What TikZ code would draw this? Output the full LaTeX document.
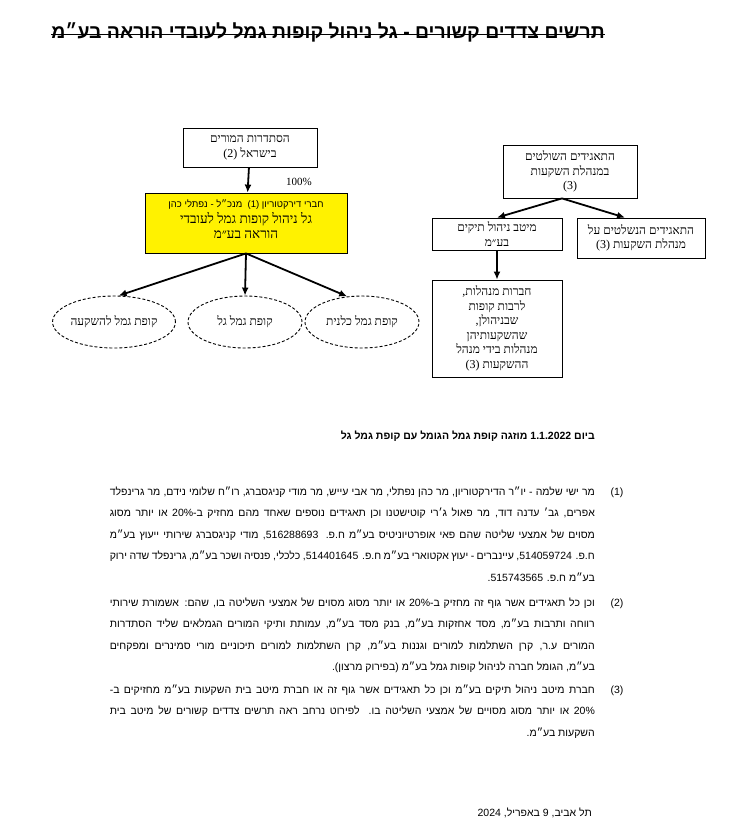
\documentclass[tikz,border=0pt]{standalone}
\usepackage{fontspec}
\setmainfont{Liberation Sans}
\newfontfamily\hebsans[Script=Hebrew]{Liberation Sans}
\newfontfamily\hebserif[Script=Hebrew]{Liberation Serif}
\TeXXeTstate=1
\usetikzlibrary{arrows.meta,shapes.geometric}
\newcommand{\rl}[1]{\beginR#1\endR}
\newcommand{\jline}[1]{\makebox[485pt][s]{\beginR#1\endR}}

\begin{document}
\begin{tikzpicture}[x=1pt,y=-1pt,
  orgbox/.style={draw, line width=0.8pt, inner sep=0pt, align=center,
    font=\hebserif\fontsize{12}{14.5}\selectfont},
  fundell/.style={ellipse, draw, line width=0.9pt, dash pattern=on 3pt off 2pt,
    minimum width=114pt, minimum height=52pt, inner sep=0pt,
    font=\hebserif\fontsize{12}{14}\selectfont},
  link/.style={-{Latex[length=8pt,width=7pt]}, line width=1.8pt},
  bodyline/.style={anchor=base east, inner sep=0pt,
    font=\hebsans\fontsize{10.5}{12}\selectfont},
  itemno/.style={anchor=base, inner sep=0pt, font=\fontsize{10.5}{12}\selectfont}]
  \useasboundingbox (0,0) rectangle (740,828);

  % title
  \node[inner sep=0pt, font=\hebsans\bfseries\fontsize{19.4}{22}\selectfont] (title) at (328,32)
    {\rl{תרשים צדדים קשורים - גל ניהול קופות גמל לעובדי הוראה בע״מ}};
  \draw[line width=1.3pt] ([yshift=3.5pt]title.base west) -- ([yshift=3.5pt]title.base east);

  % left chart
  \node[orgbox, minimum width=134pt, minimum height=39pt] (histadrut) at (250,147.5)
    {\rl{הסתדרות המורים}\\ \rl{בישראל (2)}};
  \node[orgbox, fill=yellow, minimum width=202pt, minimum height=60pt, font=\hebserif\fontsize{13.5}{15.5}\selectfont] (gal) at (246,223)
    {{\hebsans\fontsize{9.5}{11}\selectfont\rl{חברי דירקטוריון (1)\ \ מנכ״ל - נפתלי כהן}}\\
     \rl{גל ניהול קופות גמל לעובדי}\\ \rl{הוראה בע״מ}\\[-8pt]};
  \node[inner sep=0pt, font=\hebserif\fontsize{11}{13}\selectfont] (share) at (299,182) {100\%};
  \draw[link] (histadrut) -- (gal);

  \node[fundell] (kupa1) at (114,322) {\rl{קופת גמל להשקעה}};
  \node[fundell] (kupa2) at (245,322) {\rl{קופת גמל גל}};
  \node[fundell] (kupa3) at (362,322) {\rl{קופת גמל כלנית}};
  \draw[link] (gal.south) -- (kupa1.80);
  \draw[link] (gal.south) -- (kupa2.north);
  \draw[link] (gal.south) -- (kupa3.120);

  % right chart
  \node[orgbox, minimum width=134pt, minimum height=53pt] (owners) at (570,171.5)
    {\rl{התאגידים השולטים}\\ \rl{במנהלת השקעות}\\ (3)};
  \node[orgbox, minimum width=130pt, minimum height=32pt] (meitav) at (497,234)
    {\rl{מיטב ניהול תיקים}\\ \rl{בע״מ}};
  \node[orgbox, minimum width=128pt, minimum height=40pt] (controlled) at (641,238)
    {\rl{התאגידים הנשלטים על}\\ \rl{מנהלת השקעות (3)}};
  \node[orgbox, minimum width=130pt, minimum height=97pt] (funds) at (497,328.5)
    {\rl{חברות מנהלות,}\\ \rl{לרבות קופות}\\ \rl{שבניהולן,}\\ \rl{שהשקעותיהן}\\
     \rl{מנהלות בידי מנהל}\\ \rl{ההשקעות (3)}};
  \draw[link] ([xshift=-8pt]owners.south) -- (meitav.north);
  \draw[link] ([xshift=-8pt]owners.south) -- ([xshift=-16pt]controlled.north);
  \draw[link] (meitav) -- (funds);

  % merger note
  \node[bodyline, font=\hebsans\bfseries\fontsize{10.5}{13}\selectfont] (merger) at (595,439)
    {\rl{ביום 1.1.2022 מוזגה קופת גמל הגומל עם קופת גמל גל}};

  % note (1)
  \node[itemno] (n1) at (617,495) {(1)};
  \node[bodyline] (a1) at (595,495) {\jline{מר ישי שלמה - יו״ר הדירקטוריון, מר כהן נפתלי, מר אבי עייש, מר מודי קניגסברג, רו״ח שלומי נידם, מר גרינפלד}};
  \node[bodyline] (a2) at (595,516.5) {\jline{אפרים, גב׳ עדנה דוד, מר פאול ג׳רי קוטישטנו וכן תאגידים נוספים שאחד מהם מחזיק ב-20\% או יותר מסוג}};
  \node[bodyline] (a3) at (595,538) {\jline{מסוים של אמצעי שליטה שהם פאי אופרטיוניטיס בע״מ ח.פ. 516288693, מודי קניגסברג שירותי ייעוץ בע״מ}};
  \node[bodyline] (a4) at (595,559.5) {\jline{ח.פ. 514059724, עיינברים - יעוץ אקטוארי בע״מ ח.פ. 514401645, כלכלי, פנסיה ושכר בע״מ, גרינפלד שדה ירוק}};
  \node[bodyline] (a5) at (595,581) {\rl{בע״מ ח.פ. 515743565.}};

  % note (2)
  \node[itemno] (n2) at (617,606) {(2)};
  \node[bodyline] (b1) at (595,606) {\jline{וכן כל תאגידים אשר גוף זה מחזיק ב-20\% או יותר מסוג מסוים של אמצעי השליטה בו, שהם: אשמורת שירותי}};
  \node[bodyline] (b2) at (595,627.5) {\jline{רווחה ותרבות בע״מ, מסד אחזקות בע״מ, בנק מסד בע״מ, עמותת ותיקי המורים הגמלאים שליד הסתדרות}};
  \node[bodyline] (b3) at (595,649) {\jline{המורים ע.ר, קרן השתלמות למורים וגננות בע״מ, קרן השתלמות למורים תיכוניים מורי סמינרים ומפקחים}};
  \node[bodyline] (b4) at (595,670.5) {\rl{בע״מ, הגומל חברה לניהול קופות גמל בע״מ (בפירוק מרצון).}};

  % note (3)
  \node[itemno] (n3) at (617,693) {(3)};
  \node[bodyline] (c1) at (595,693) {\jline{חברת מיטב ניהול תיקים בע״מ וכן כל תאגידים אשר גוף זה או חברת מיטב בית השקעות בע״מ מחזיקים ב-}};
  \node[bodyline] (c2) at (595,714.5) {\jline{20\% או יותר מסוג מסויים של אמצעי השליטה בו. לפירוט נרחב ראה תרשים צדדים קשורים של מיטב בית}};
  \node[bodyline] (c3) at (595,736) {\rl{השקעות בע״מ.}};

  % place and date
  \node[bodyline] (date) at (592,816) {\rl{תל אביב, 9 באפריל, 2024}};
\end{tikzpicture}
\end{document}
